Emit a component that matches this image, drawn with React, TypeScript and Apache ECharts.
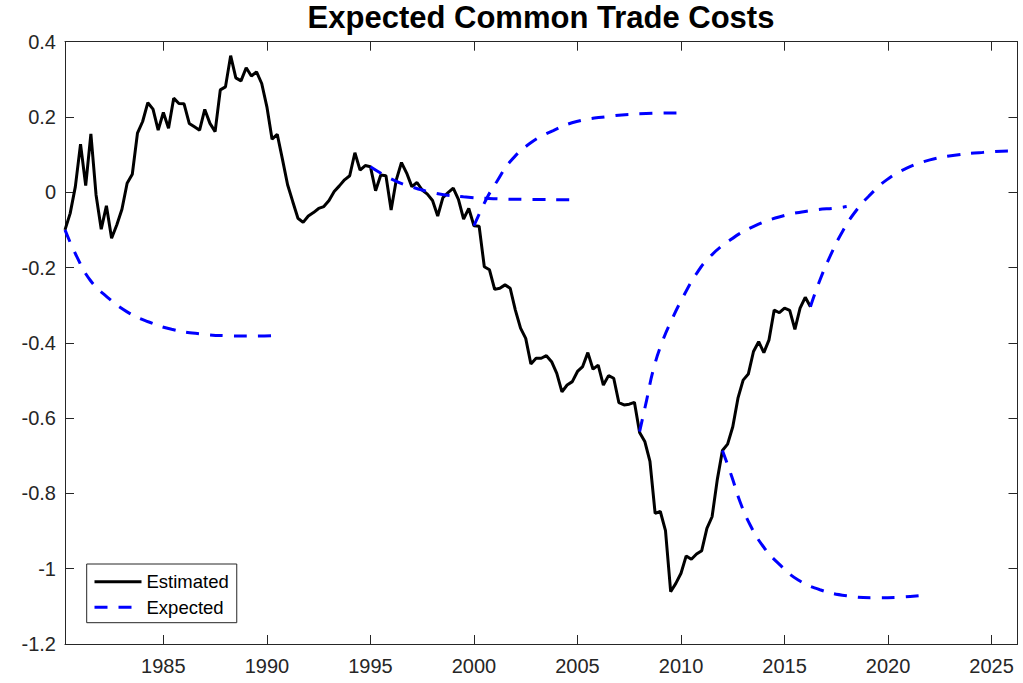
import React, { useEffect, useRef } from "react";
import * as echarts from "echarts";

// Estimated: quarterly values starting 1980.25
const estStart = 1980.25;
const estStep = 0.25;
const estimated: number[] = [
  -0.100, -0.056, 0.015,
  0.128, 0.018, 0.155, -0.007,
  -0.098, -0.036, -0.122, -0.087,
  -0.045, 0.024, 0.048, 0.157,
  0.188, 0.238, 0.221, 0.165,
  0.212, 0.170, 0.250, 0.236,
  0.235, 0.183, 0.174, 0.165,
  0.220, 0.183, 0.161, 0.272,
  0.280, 0.363, 0.304, 0.296,
  0.331, 0.309, 0.320, 0.289,
  0.227, 0.141, 0.154, 0.088,
  0.020, -0.025, -0.069, -0.080,
  -0.063, -0.054, -0.043, -0.038,
  -0.022, 0.002, 0.017, 0.033,
  0.044, 0.105, 0.059, 0.071,
  0.068, 0.004, 0.046, 0.044,
  -0.047, 0.033, 0.079, 0.051,
  0.015, 0.026, 0.006, -0.005,
  -0.022, -0.063, -0.014, -0.001,
  0.011, -0.019, -0.071, -0.043,
  -0.089, -0.090, -0.198, -0.206,
  -0.258, -0.255, -0.246, -0.255,
  -0.313, -0.361, -0.388, -0.456,
  -0.441, -0.441, -0.434, -0.450,
  -0.481, -0.530, -0.512, -0.503,
  -0.476, -0.463, -0.426, -0.470,
  -0.459, -0.512, -0.487, -0.494,
  -0.559, -0.565, -0.563, -0.558,
  -0.638, -0.662, -0.715, -0.853,
  -0.848, -0.899, -1.061, -1.039,
  -1.012, -0.966, -0.975, -0.961,
  -0.952, -0.893, -0.862, -0.764,
  -0.686, -0.669, -0.623, -0.547,
  -0.499, -0.483, -0.423, -0.397,
  -0.426, -0.392, -0.313, -0.320,
  -0.308, -0.314, -0.364, -0.308,
  -0.279, -0.304,
];

// Expected paths: [year, value]
const expected1980: [number, number][] = [
  [1980.25, -0.100], [1980.82, -0.171], [1981.46, -0.233], [1982.26, -0.277],
  [1983.23, -0.317], [1984.27, -0.344], [1985.40, -0.364], [1986.77, -0.376],
  [1988.06, -0.381], [1989.34, -0.382], [1990.25, -0.381],
];
const expected1995: [number, number][] = [
  [1995.0, 0.068], [1996.10, 0.033], [1997.07, 0.013], [1998.20, -0.003],
  [1999.49, -0.012], [2000.93, -0.017], [2002.55, -0.019], [2004.80, -0.020],
  [2005.0, -0.021],
];
const expected2000: [number, number][] = [
  [2000.0, -0.089], [2000.62, -0.016], [2001.10, 0.028], [2001.74, 0.081],
  [2002.71, 0.130], [2003.83, 0.164], [2004.96, 0.188], [2006.41, 0.201],
  [2007.86, 0.208], [2010.0, 0.211],
];
const expected2008: [number, number][] = [
  [2008.0, -0.636], [2008.34, -0.552], [2008.66, -0.472], [2009.07, -0.401],
  [2009.55, -0.339], [2010.11, -0.277], [2010.76, -0.215], [2011.40, -0.171],
  [2012.37, -0.127], [2013.49, -0.091], [2014.78, -0.065], [2016.23, -0.049],
  [2017.60, -0.041], [2018.0, -0.038],
];
const expected2012: [number, number][] = [
  [2012.0, -0.686], [2012.45, -0.755], [2012.85, -0.822], [2013.34, -0.884],
  [2013.97, -0.941], [2014.78, -0.990], [2015.66, -1.030], [2016.71, -1.056],
  [2018.0, -1.072], [2019.29, -1.077], [2020.41, -1.076], [2021.78, -1.070],
  [2022.0, -1.068],
];
const expected2016: [number, number][] = [
  [2016.25, -0.304], [2016.71, -0.233], [2017.19, -0.171], [2017.84, -0.100],
  [2018.48, -0.047], [2019.13, -0.007], [2019.93, 0.033], [2020.90, 0.064],
  [2022.02, 0.086], [2023.31, 0.099], [2024.60, 0.106], [2026.05, 0.110],
  [2026.25, 0.110],
];

const xTicks = [1985, 1990, 1995, 2000, 2005, 2010, 2015, 2020, 2025];
const legendNames = ["Estimated", "Expected"];
const titleText = "Expected Common Trade Costs";

export default function App() {
  const ref = useRef<HTMLDivElement>(null);

  useEffect(() => {
    if (!ref.current) return;
    const chart = echarts.init(ref.current, null, { renderer: "svg" });
    const axisColor = "#262626";
    const font = "'Liberation Sans', Arial, Helvetica, sans-serif";
    const expectedSets = [expected1980, expected1995, expected2000, expected2008, expected2012, expected2016];

    const baseX = {
      type: "value",
      min: 1980.25,
      max: 2026.25,
      axisLine: { show: true, onZero: false, lineStyle: { color: axisColor, width: 1 } },
      axisTick: { show: true, inside: true, length: 9, customValues: xTicks, lineStyle: { color: axisColor, width: 1 } },
      splitLine: { show: false },
    };
    const baseY = {
      type: "value",
      min: -1.2,
      max: 0.4,
      interval: 0.2,
      axisLine: { show: true, onZero: false, lineStyle: { color: axisColor, width: 1 } },
      axisTick: { show: true, inside: true, length: 9, lineStyle: { color: axisColor, width: 1 } },
      splitLine: { show: false },
    };

    const series: any[] = [
      {
        name: "Estimated",
        type: "line",
        data: estimated.map((v, i) => [estStart + i * estStep, v]),
        symbol: "none",
        lineStyle: { color: "#000000", width: 3 },
        itemStyle: { color: "#000000" },
        z: 3,
      },
      ...expectedSets.map((d) => ({
        name: "Expected",
        type: "line",
        data: d,
        symbol: "none",
        smooth: 0.45,
        lineStyle: { color: "#0000ff", width: 3, type: [13, 11] },
        itemStyle: { color: "#0000ff" },
        z: 4,
      })),
    ];

    chart.setOption({
      animation: false,
      backgroundColor: "#ffffff",
      title: {
        text: titleText,
        left: 541,
        top: 2,
        textAlign: "center",
        padding: 0,
        textStyle: { fontSize: 31, fontWeight: "bold", fontFamily: font, color: "#000000" },
      },
      grid: { left: 65, right: 5.5, top: 41.7, bottom: 39, containLabel: false, outerBoundsMode: "none" },
      legend: {
        data: legendNames,
        orient: "vertical",
        left: 86.7,
        top: 564,
        itemWidth: 47,
        itemHeight: 19,
        itemGap: 6.6,
        padding: [8.2, 8, 5.9, 6.3],
        borderColor: axisColor,
        borderWidth: 1,
        borderRadius: 0,
        backgroundColor: "#ffffff",
        selectedMode: false,
        lineStyle: { width: 3 },
        itemStyle: { opacity: 0 },
        textStyle: { fontSize: 18.5, fontFamily: font, color: "#000000", lineHeight: 19 },
      },
      xAxis: [
        {
          ...baseX,
          position: "bottom",
          axisLabel: {
            show: true,
            customValues: xTicks,
            color: axisColor,
            fontSize: 20,
            fontFamily: font,
            margin: 12,
            formatter: (v: number) => String(v),
          },
        },
        {
          ...baseX,
          position: "top",
          axisLabel: { show: false, customValues: xTicks },
        },
      ],
      yAxis: [
        {
          ...baseY,
          position: "left",
          axisLabel: {
            show: true,
            color: axisColor,
            fontSize: 20,
            fontFamily: font,
            margin: 9,
            formatter: (v: number) => String(Math.round(v * 10) / 10),
          },
        },
        {
          ...baseY,
          position: "right",
          axisLabel: { show: false },
        },
      ],
      series,
    });

    return () => {
      chart.dispose();
    };
  }, []);

  return (
    <div
      ref={ref}
      style={{ position: "fixed", left: 0, top: 0, width: 1023, height: 683, background: "#ffffff" }}
    />
  );
}
